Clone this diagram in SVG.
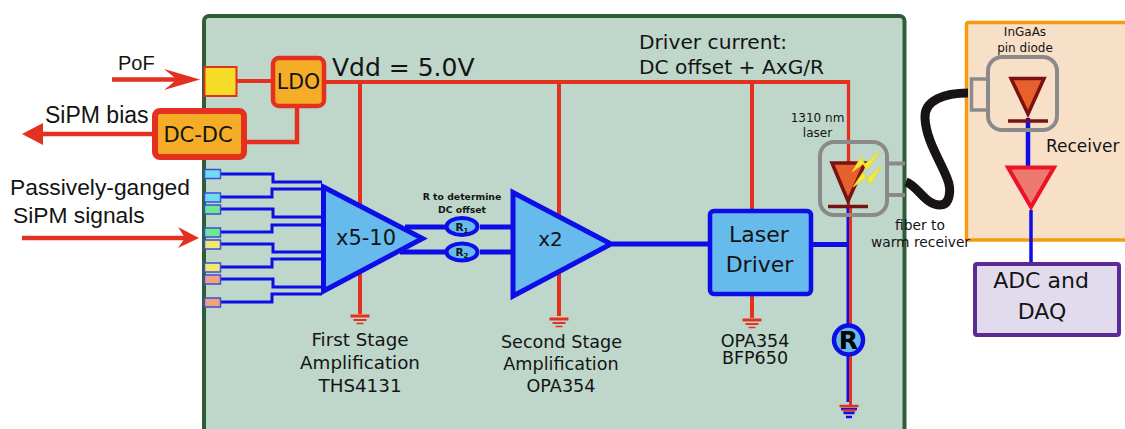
<svg xmlns="http://www.w3.org/2000/svg" width="1125" height="429" viewBox="0 0 1125 429">
<defs>
<style>
text{font-family:"DejaVu Sans",sans-serif;fill:#141414}
.h{font-family:"Liberation Sans",Arial,sans-serif}
.r{fill:none;stroke:#e3301f;stroke-linejoin:miter}
.b{fill:none;stroke:#0d0de8;stroke-linejoin:miter}
.pad{stroke:#3b4fd6;stroke-width:1.5}
.m{text-anchor:middle}
.k{fill:#000}
</style>
<g id="gnd"><path d="M-9.500 0H9.500" stroke="#e3301f" stroke-width="3" fill="none"/><path d="M-6.500 4H6.500" stroke="#e3301f" stroke-width="2" fill="none"/><path d="M-3.500 7.500H3.500" stroke="#e3301f" stroke-width="1.500" fill="none"/></g>
</defs>
<rect width="1125" height="429" fill="#fff"/>
<g id="board"><rect x="204" y="16" width="700.500" height="430" rx="5" fill="#bed7ca" stroke="#2f5d37" stroke-width="4"/></g>
<g id="receiver-box"><rect x="966.500" y="22.500" width="175" height="217.500" rx="2" fill="#f8dfc8" stroke="#f79a0e" stroke-width="3.500"/></g>
<g id="connectors">
<path class="r" stroke-width="4" d="M236 81H272"/>
<path class="r" stroke-width="4" d="M325 82H848.500"/>
<path class="r" stroke-width="3.300" d="M848.500 80V210"/>
<path class="r" stroke-width="4" d="M360 82V314M559 82V316M752 82V212M752 294V318"/>
<path class="r" stroke-width="4.500" d="M297 106V142H244"/>
<path class="r" stroke-width="4.500" d="M112 79.500H190M30 134H153M22 238H188"/>
<path d="M200 79.500L164 69L177 79.500L164 90Z M22 134L43 123V145Z M199 238L178 227L185 238L178 248Z" fill="#e3301f"/>
<use href="#gnd" x="360" y="316"/><use href="#gnd" x="559" y="319"/><use href="#gnd" x="752" y="320"/>
<path class="b" stroke-width="3" d="M221 174H273V182H322M221 197H272V189H322M221 209H273V217H322M221 232H272V225H322M221 244H273V252H322M221 267H272V259H322M221 279H273V287H322M221 302H272V294H322"/>
<path class="b" stroke-width="5" d="M405 227H446M480 227H512M400 252H446M480 252H512M612 244H710M812 244.500H847"/>
<path stroke="#0d0de8" stroke-width="3" fill="none" d="M848 207V324M848 356V402"/>
<path stroke="#e3301f" stroke-width="3" fill="none" d="M850.500 207V324M850.500 356V405"/>
<g transform="translate(849 406)"><path d="M-8 3H8M-5.500 7H5.500M-3 11H3" stroke="#0d0de8" stroke-width="2.500" fill="none"/><path d="M-9.500 0H9.500M-6.500 4.500H6.500" stroke="#e3301f" stroke-width="2.500" fill="none"/></g>
<path d="M906 182C918 186 925 205 940 205C950 205 952 190 947 178C940 160 926 140 925 118C924 100 945 93 968 93" fill="none" stroke="#171413" stroke-width="9"/>
<path d="M1028 118V166" fill="none" stroke="#0d0de8" stroke-width="4.500"/>
<path d="M1031 210V263" fill="none" stroke="#0d0de8" stroke-width="3.500"/>
</g>
<g id="pof-label"><text class="h" x="118" y="70" font-size="20">PoF</text></g>
<g id="sipm-bias-label"><text class="h" x="45" y="123" font-size="23">SiPM bias</text></g>
<g id="signals-label"><text class="h" x="10" y="195" font-size="22.800">Passively-ganged</text><text class="h" x="13" y="223" font-size="22.800">SiPM signals</text></g>
<g id="pof-pad"><rect x="204.500" y="67" width="32" height="29" fill="#f5dc26" stroke="#e3301f" stroke-width="2"/></g>
<g id="ldo"><rect x="273" y="58" width="51" height="48" rx="6" fill="#f5ad27" stroke="#e3301f" stroke-width="4.500"/><text class="m" x="298.500" y="89" font-size="20.500">LDO</text></g>
<g id="dc-dc"><rect x="155" y="111" width="89" height="46" rx="5" fill="#f5ad27" stroke="#e3301f" stroke-width="6"/><text class="m" x="198" y="142" font-size="21">DC-DC</text></g>
<g id="sipm-pads">
<rect class="pad" x="204.500" y="169.500" width="16" height="9" fill="#6fdcf2"/>
<rect class="pad" x="204.500" y="193" width="16" height="9" fill="#6fdcf2"/>
<rect class="pad" x="204.500" y="205" width="16" height="9" fill="#6fe890"/>
<rect class="pad" x="204.500" y="228" width="16" height="9" fill="#6fe890"/>
<rect class="pad" x="204.500" y="240" width="16" height="9" fill="#f3e671"/>
<rect class="pad" x="204.500" y="263" width="16" height="9" fill="#f3e671"/>
<rect class="pad" x="204.500" y="275" width="16" height="9" fill="#f2a27c"/>
<rect class="pad" x="204.500" y="298" width="16" height="9" fill="#f2a27c"/>
</g>
<g id="amp1"><path d="M323.500 187L422.500 238.500L323.500 291Z" fill="#66baec" stroke="#0d0de8" stroke-width="5"/><text class="m" x="366" y="245" font-size="21">x5-10</text></g>
<g id="r-note"><text class="m" x="462" y="200" font-size="9.300" font-weight="bold">R to determine</text><text class="m" x="462" y="213" font-size="9.300" font-weight="bold">DC offset</text></g>
<g id="r1"><ellipse cx="462" cy="226.500" rx="15.500" ry="8.500" fill="#66baec" stroke="#0d0de8" stroke-width="4"/><text class="m" x="462" y="230.500" font-size="10.500" font-weight="bold">R<tspan font-size="7" dy="2">1</tspan></text></g>
<g id="r2"><ellipse cx="462" cy="252" rx="15.500" ry="8.500" fill="#66baec" stroke="#0d0de8" stroke-width="4"/><text class="m" x="462" y="256" font-size="10.500" font-weight="bold">R<tspan font-size="7" dy="2">2</tspan></text></g>
<g id="amp2"><path d="M513 192.500L611 244L513 296Z" fill="#66baec" stroke="#0d0de8" stroke-width="5"/><text class="m" x="550.500" y="246" font-size="20">x2</text></g>
<g id="laser-driver"><rect x="710" y="211" width="101" height="83" rx="4" fill="#66baec" stroke="#0d0de8" stroke-width="4.500"/><text class="m" x="759" y="242" font-size="22">Laser</text><text class="m" x="759.500" y="272" font-size="22">Driver</text></g>
<g id="vdd-label"><text x="332" y="76" font-size="25">Vdd = 5.0V</text></g>
<g id="current-label"><text x="639" y="49" font-size="20.200">Driver current:</text><text x="639" y="74" font-size="20.200">DC offset + AxG/R</text></g>
<g id="stage1-label"><text class="m" x="360" y="346" font-size="18.300">First Stage</text><text class="m" x="360" y="369" font-size="18.300">Amplification</text><text class="m" x="360" y="392" font-size="18.300">THS4131</text></g>
<g id="stage2-label"><text class="m" x="561.500" y="348" font-size="17.600">Second Stage</text><text class="m" x="561" y="370" font-size="17.600">Amplification</text><text class="m" x="561" y="392" font-size="17.600">OPA354</text></g>
<g id="driver-label"><text class="m" x="755" y="347" font-size="17.500">OPA354</text><text class="m" x="755" y="364" font-size="17.500">BFP650</text></g>
<g id="laser-label"><text class="m" x="817.500" y="122" font-size="12">1310 nm</text><text class="m" x="817.500" y="137" font-size="12">laser</text></g>
<g id="laser">
<rect x="820" y="142" width="67" height="73" rx="14" fill="none" stroke="#8a8a8a" stroke-width="4"/>
<path d="M889 163.500H905M889 195H905" stroke="#8a8a8a" stroke-width="4" fill="none"/>
<path d="M832 163H865L848 201Z" fill="#e4602c" stroke="#7a1212" stroke-width="3.500"/>
<path d="M828 206.500H868" stroke="#7a1212" stroke-width="3.500"/>
<path d="M852 172L861 157L865 164L881 150L867 170L863 164ZM853 187L863 172L867 179L882 165L870 185L867 177Z" fill="#f2ee37" stroke="#e8d52c" stroke-width=".8"/>
</g>
<g id="fiber-label"><text class="m" x="920" y="230" font-size="13.800">fiber to</text><text class="m" x="920.500" y="247" font-size="13.800">warm receiver</text></g>
<g id="photodiode">
<text class="m" x="1025" y="36" font-size="12">InGaAs</text><text class="m" x="1025" y="52" font-size="12">pin diode</text>
<rect x="988" y="57" width="69" height="73" rx="14" fill="none" stroke="#8a8a8a" stroke-width="4"/>
<path d="M987 79H971.500V110H987" stroke="#8a8a8a" stroke-width="3.500" fill="none"/>
<path d="M1011 78.500H1044L1028 114Z" fill="#e8602c" stroke="#7a1212" stroke-width="3.500"/>
<path d="M1008 121H1048" stroke="#7a1212" stroke-width="3.500"/>
</g>
<g id="receiver-label"><text x="1046" y="152" font-size="17">Receiver</text></g>
<g id="rx-amp"><path d="M1008 167.500H1054L1031 207Z" fill="#ec7a6e" stroke="#ee1229" stroke-width="4"/></g>
<g id="adc"><rect x="975" y="264" width="144" height="71" rx="2" fill="#e2dbee" stroke="#5b2a92" stroke-width="4"/><text class="m" x="1041" y="288" font-size="22">ADC and</text><text class="m" x="1042" y="319" font-size="22">DAQ</text></g>
<g id="resistor"><circle cx="848.500" cy="340" r="14.500" fill="#66baec" stroke="#0d0de8" stroke-width="4.500"/><text class="m k" x="848.500" y="349" font-size="25" font-weight="bold">R</text></g>
</svg>
